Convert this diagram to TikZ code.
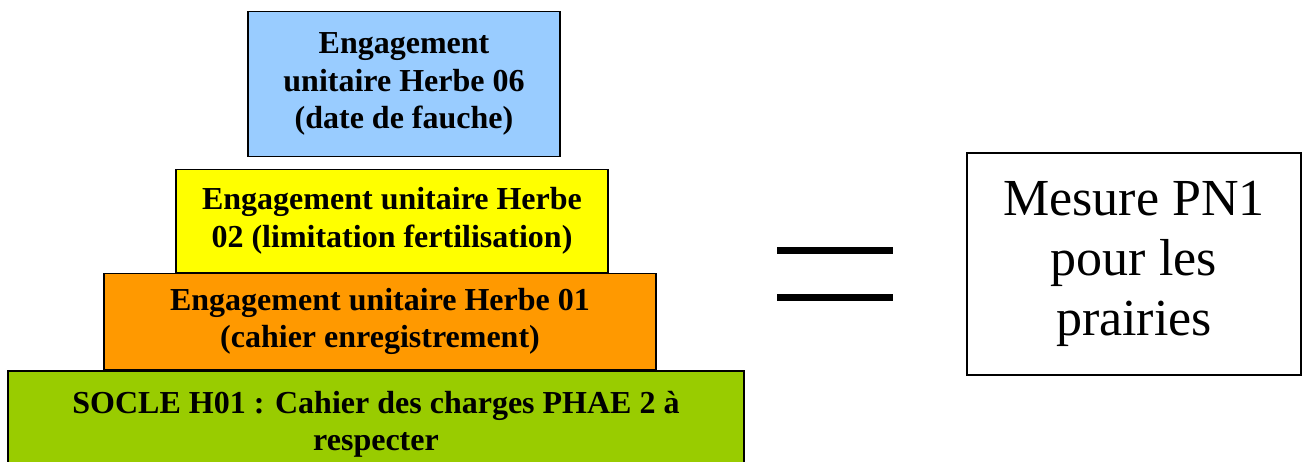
\documentclass[tikz,border=0pt]{standalone}
\usepackage{fontspec}
\setmainfont{Liberation Serif}
\definecolor{herbeblue}{RGB}{153,204,255}
\definecolor{herbeyellow}{RGB}{255,255,0}
\definecolor{herbeorange}{RGB}{255,153,0}
\definecolor{herbegreen}{RGB}{153,204,0}
\usetikzlibrary{positioning}

\begin{document}
\begin{tikzpicture}[x=0.75pt, y=-0.75pt,
      node distance=0pt,
      layer/.style={draw=black, line width=1pt, align=center, inner sep=0pt,
                  font=\fontsize{24}{28}\selectfont\bfseries},
      mesure/.style={draw=black, line width=1pt, align=center, inner sep=0pt,
                  font=\fontsize{39}{45}\selectfont,
                  minimum width=250.5pt, minimum height=166.5pt},
      egal/.style={line width=5.25pt, black}]
    \useasboundingbox (0,0) rectangle (1303,461);
    \node[layer, fill=herbegreen, minimum width=552pt, minimum height=79.5pt]
      (socle) at (376,424) {SOCLE H01 : Cahier des charges PHAE 2 à\\ respecter};
    \node[layer, fill=herbeorange, minimum width=414pt, minimum height=72pt,
      above=of socle, xshift=3pt] (h01) {Engagement unitaire Herbe 01\\ (cahier enregistrement)};
    \node[layer, fill=herbeyellow, minimum width=324pt, minimum height=77.25pt,
      above=of h01, xshift=9pt] (h02) {Engagement unitaire Herbe\\ 02 (limitation fertilisation)};
    \node[layer, fill=herbeblue, minimum width=234pt, minimum height=109pt,
      above=8.5pt of h02, xshift=9pt] (h06) {Engagement\\ unitaire Herbe 06\\ (date de fauche)};
    \node[mesure] (pn1) at (1134,264) {Mesure PN1\\ pour les\\ prairies};
    \draw[egal] (777,250) -- (893,250);
    \draw[egal] (777,297) -- (893,297);
  \end{tikzpicture}
\end{document}
